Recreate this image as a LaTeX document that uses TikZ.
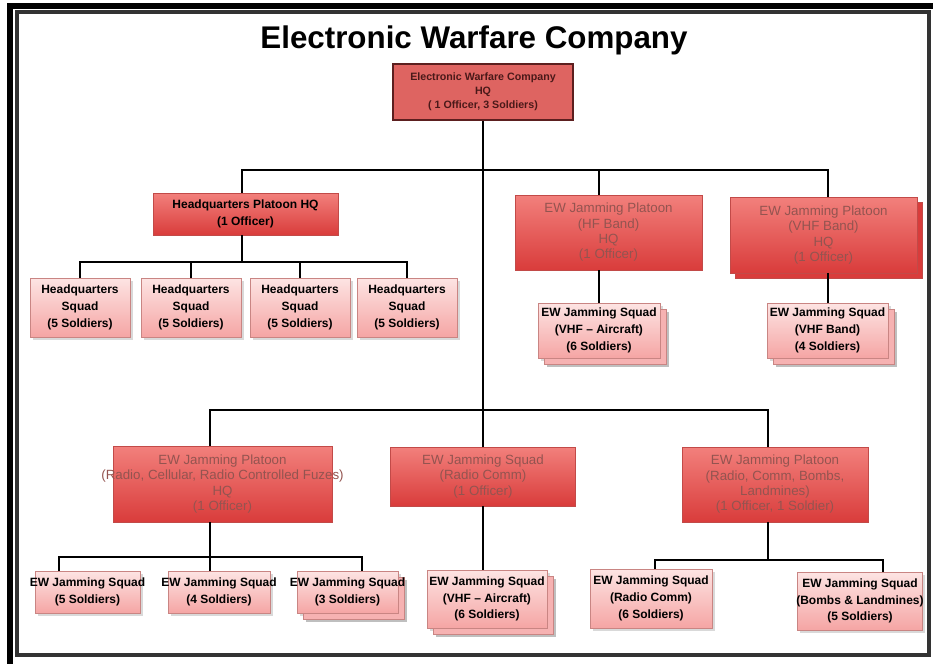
\documentclass[tikz,border=0pt]{standalone}
\usepackage{fontspec}
\setmainfont{Liberation Sans}
\usetikzlibrary{shadows}

\definecolor{hqfill}{HTML}{DE6461}
\definecolor{hqline}{HTML}{5C1F1F}
\definecolor{pltop}{HTML}{F2807C}
\definecolor{plbot}{HTML}{D93C3B}
\definecolor{plline}{HTML}{C24A48}
\definecolor{pltext}{HTML}{935450}
\definecolor{sqtop}{HTML}{FDE4E3}
\definecolor{sqbot}{HTML}{F5A5A4}
\definecolor{sqline}{HTML}{C98583}

\begin{document}
\begin{tikzpicture}[
  x=0.75pt, y=-0.75pt,
  bus/.style={draw=black, line width=1.5pt},
  sz/.style 2 args={minimum width=#1*0.75pt, minimum height=#2*0.75pt},
  cohq/.style={draw=hqline, line width=1.6pt, fill=hqfill, align=center, inner sep=0pt,
    text=hqline!80!black, font=\fontsize{8}{10.5}\selectfont\bfseries},
  plt/.style={draw=plline, top color=pltop, bottom color=plbot, align=center, inner sep=0pt,
    text=pltext, font=\fontsize{10}{11.5}\selectfont},
  hqplt/.style={plt, text=black, font=\fontsize{9}{13}\selectfont\bfseries},
  sq/.style={draw=sqline, top color=sqtop, bottom color=sqbot, align=center, inner sep=0pt,
    font=\fontsize{9}{12.5}\selectfont\bfseries,
    drop shadow={opacity=0.3, shadow xshift=2pt, shadow yshift=-2pt}},
  stack/.style={preaction={fill=black, opacity=0.25, transform canvas={shift={(7pt,-7pt)}}},
    preaction={draw=sqline, fill=sqbot!85!white, transform canvas={shift={(5pt,-5pt)}}}},
  pstack/.style={preaction={draw=plline, fill=plbot, transform canvas={shift={(4pt,-4pt)}}}}
  ]
  \path[use as bounding box] (0,0) rectangle (933,664);

  % frame
  \draw[line width=4.5pt] (9.5,664) -- (9.5,6) -- (933,6);
  \draw[line width=2.5pt, black!80] (17,12) rectangle (929,655);

  \node (NTitle) at (474,40) {\fontsize{23.5}{26}\selectfont\bfseries Electronic Warfare Company};

  \node[cohq, sz={180}{56}] (NCo) at (483,92)
    {Electronic Warfare Company\\HQ\\( 1 Officer, 3 Soldiers)};

  \node[hqplt, sz={185}{42}] (NHqPlt) at (245.5,214) {Headquarters Platoon HQ\\(1 Officer)};
  \node[sq, sz={100}{59}] (NHqSq1) at (80,307.5)  {Headquarters\\Squad\\(5 Soldiers)};
  \node[sq, sz={100}{59}] (NHqSq2) at (191,307.5) {Headquarters\\Squad\\(5 Soldiers)};
  \node[sq, sz={100}{59}] (NHqSq3) at (300,307.5) {Headquarters\\Squad\\(5 Soldiers)};
  \node[sq, sz={100}{59}] (NHqSq4) at (407,307.5) {Headquarters\\Squad\\(5 Soldiers)};

  \node[plt, sz={187}{75}] (NHfPlt) at (608.5,232.5) {EW Jamming Platoon\\(HF Band)\\HQ\\(1 Officer)};
  \node[plt, pstack, sz={187}{76}] (NVhfPlt) at (823.5,235) {EW Jamming Platoon\\(VHF Band)\\HQ\\(1 Officer)};
  \node[sq, stack, sz={122}{55}] (NHfSq) at (599,330.5) {EW Jamming Squad\\(VHF – Aircraft)\\(6 Soldiers)};
  \node[sq, stack, sz={121}{55}] (NVhfSq) at (827.5,330.5) {EW Jamming Squad\\(VHF Band)\\(4 Soldiers)};

  \node[plt, sz={219}{76}] (NRadPlt) at (222.5,484)
    {EW Jamming Platoon\\\makebox[0pt]{(Radio, Cellular, Radio Controlled Fuzes)}\\HQ\\(1 Officer)};
  \node[plt, sz={185}{59}] (NRcSq) at (483,476.5) {EW Jamming Squad\\(Radio Comm)\\(1 Officer)};
  \node[plt, sz={186}{75}] (NBmPlt) at (775,484.5)
    {EW Jamming Platoon\\(Radio, Comm, Bombs,\\Landmines)\\(1 Officer, 1 Soldier)};

  \node[sq, sz={105}{42}] (NSq5) at (87.5,592) {\makebox[0pt]{EW Jamming Squad}\\(5 Soldiers)};
  \node[sq, sz={102}{42}] (NSq4) at (219,592) {\makebox[0pt]{EW Jamming Squad}\\(4 Soldiers)};
  \node[sq, stack, sz={101}{42}] (NSq3) at (347.5,592) {\makebox[0pt]{EW Jamming Squad}\\(3 Soldiers)};
  \node[sq, stack, sz={120}{58}] (NVhfAcSq) at (487,599) {EW Jamming Squad\\(VHF – Aircraft)\\(6 Soldiers)};
  \node[sq, sz={122}{59}] (NRcomSq) at (651,598.5) {EW Jamming Squad\\(Radio Comm)\\(6 Soldiers)};
  \node[sq, sz={125}{58}] (NBombSq) at (860,601)
    {EW Jamming Squad\\\makebox[0pt]{(Bombs \& Landmines)}\\(5 Soldiers)};

  \coordinate (BusA) at (0,170);
  \coordinate (BusB) at (0,262);
  \coordinate (BusC) at (0,410);
  \coordinate (BusD) at (0,557);
  \coordinate (BusE) at (0,560);
  \coordinate (XHq) at (242,0);
  \coordinate (XRad) at (210,0);
  \coordinate (XBm) at (768,0);
  \coordinate (XSq5) at (59,0);
  \coordinate (XSq3) at (362,0);
  \coordinate (XRcom) at (655,0);
  \coordinate (XBomb) at (883,0);

  \draw[bus] (NCo.south) -- (NRcSq.north);
  \draw[bus] (XHq |- NHqPlt.north) -- (XHq |- BusA) -- (NVhfSq.north |- BusA) -- (NVhfSq.north |- NVhfPlt.north);
  \draw[bus] (NHfSq.north |- BusA) -- (NHfSq.north |- NHfPlt.north);
  \draw[bus] (NHfSq.north |- NHfPlt.south) -- (NHfSq.north);
  \draw[bus] (NVhfSq.north |- NVhfPlt.south) -- (NVhfSq.north);

  \draw[bus] (XHq |- NHqPlt.south) -- (XHq |- BusB);
  \draw[bus] (NHqSq1.north) -- (NHqSq1.north |- BusB) -- (NHqSq4.north |- BusB) -- (NHqSq4.north);
  \draw[bus] (NHqSq2.north |- BusB) -- (NHqSq2.north);
  \draw[bus] (NHqSq3.north |- BusB) -- (NHqSq3.north);

  \draw[bus] (XRad |- NRadPlt.north) -- (XRad |- BusC) -- (XBm |- BusC) -- (XBm |- NBmPlt.north);

  \draw[bus] (XRad |- NRadPlt.south) -- (XRad |- NSq4.north);
  \draw[bus] (XSq5 |- NSq5.north) -- (XSq5 |- BusD) -- (XSq3 |- BusD) -- (XSq3 |- NSq3.north);

  \draw[bus] (NRcSq.south) -- (NRcSq.south |- NVhfAcSq.north);

  \draw[bus] (XBm |- NBmPlt.south) -- (XBm |- BusE);
  \draw[bus] (XRcom |- NRcomSq.north) -- (XRcom |- BusE) -- (XBomb |- BusE) -- (XBomb |- NBombSq.north);
\end{tikzpicture}
\end{document}
